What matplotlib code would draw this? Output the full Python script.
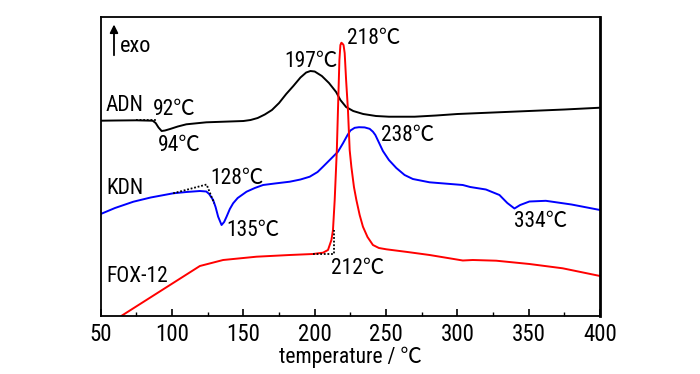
import matplotlib
matplotlib.use("Agg")
import matplotlib.pyplot as plt
from matplotlib.ticker import MultipleLocator

FAM = ['Roboto Condensed', 'Noto Sans CJK SC', 'DejaVu Sans']
plt.rcParams['font.family'] = FAM

# ---- data (temperature in °C, signal in arbitrary units) ----
adn_T = [50, 60, 75, 86.4, 88.5, 90.5, 92.7, 95, 98.6, 104, 110, 124, 140, 150, 155, 160, 165, 170,
         175, 180, 185, 190, 194, 197, 200, 205, 210, 215, 218, 222, 227, 234, 243, 252, 270, 285,
         300, 325, 350, 375, 400]
adn_S = [195.0, 195.2, 195.4, 195.0, 192.7, 188.2, 184.7, 185.2, 186.7, 189.2, 191.4, 193.4, 194.2,
         194.7, 195.7, 197.7, 201.2, 205.7, 212.7, 221.7, 229.7, 238.2, 243.2, 244.7, 244.2,
         239.7, 232.7, 223.7, 215.7, 208.7, 204.7, 201.7, 199.7, 199.0, 199.0, 200.2, 201.7, 203.2,
         204.7, 206.2, 208.0]

kdn_T = [50, 60, 72.9, 85, 100.8, 110, 119.5, 124, 126, 128.8, 130.5, 132.3, 134.7, 136.5, 138.2,
         140.5, 142.8, 146, 152.2, 158, 163.8, 172, 182.5, 190, 196.5, 202, 205.8, 210.5, 216.3,
         219.8, 223, 225, 228, 231, 235, 238.5, 240.8, 242.5, 244, 247.8, 252, 257.2, 263, 268.8,
         280.5, 303.8, 309, 320, 329.5, 335, 340, 344, 350.5, 362, 380, 400]
kdn_S = [101.7, 107.7, 114.0, 118.2, 122.4, 123.7, 124.7, 124.2, 121.7, 115.7, 108.7, 99.0, 90.7,
         93.7, 99.0, 106.7, 112.4, 117.7, 124.0, 127.7, 130.7, 132.2, 134.0, 136.2, 139.0, 143.7,
         149.0, 155.7, 164.0, 172.4, 180.7, 185.2, 187.9, 188.5, 188.3, 186.9, 184.0, 180.7, 176.2,
         164.7, 155.7, 147.7, 140.7, 136.7, 133.4, 130.7, 128.7, 126.2, 120.7, 112.7, 107.2, 110.7,
         114.2, 114.9, 111.2, 105.7]

fox_T = [64.7, 119.5, 135.8, 159.2, 182.5, 198.8, 205.8, 209.3, 211.7, 212.8, 214, 215.5, 216.5,
         217.3, 218, 218.7, 219.5, 220.2, 221, 222, 223.3, 224.5, 225.7, 227.5, 229.2, 231.5, 233.8,
         237, 240.8, 245, 250.2, 265, 280.5, 303.8, 310.8, 327.2, 350.5, 373.8, 400]
fox_S = [0.0, 49.7, 55.7, 59.0, 60.7, 61.7, 63.0, 65.7, 75.7, 85.7, 115.7, 165.7, 215.7, 255.7,
         270.7, 273.0, 272.0, 270.7, 262.7, 235.7, 205.7, 165.7, 148.7, 128.7, 115.7, 100.7, 89.0,
         78.7, 70.7, 67.7, 66.4, 63.7, 60.7, 55.2, 55.7, 55.0, 51.7, 47.4, 39.7]

# onset construction lines
adn_onset_T = [75, 89]
adn_onset_S = [195.7, 195.7]
kdn_onset_T = [100.8, 124.2, 129.5]
kdn_onset_S = [122.4, 131.2, 112.4]
fox_onset_T = [198.8, 213.5, 213.5]
fox_onset_S = [61.7, 61.7, 85.7]

x_ticks = [50, 100, 150, 200, 250, 300, 350, 400]

fig = plt.figure(figsize=(7.0, 3.74), dpi=100)
ax = fig.add_axes([0.1439, 0.1559, 0.7133, 0.7994])

ax.plot(adn_T, adn_S, color='black', lw=1.4)
ax.plot(kdn_T, kdn_S, color='#0000ff', lw=1.4)
ax.plot(fox_T, fox_S, color='#ff0000', lw=1.4)
for T, S in [(adn_onset_T, adn_onset_S), (kdn_onset_T, kdn_onset_S), (fox_onset_T, fox_onset_S)]:
    ax.plot(T, S, color='black', lw=1.3, ls=(0, (1, 1)))

ax.set_xlim(50, 400)
ax.set_ylim(0, 299)
ax.set_xticks(x_ticks)
ax.xaxis.set_minor_locator(MultipleLocator(25))
ax.set_yticks([])
ax.tick_params(axis='x', which='major', direction='in', length=5, width=1.2, labelsize=16.5, pad=5)
ax.tick_params(axis='x', which='minor', direction='in', length=3, width=1.0)
for s in ax.spines.values():
    s.set_linewidth(1.3)
ax.spines['right'].set_linewidth(2.0)
ax.set_xlabel('temperature / ℃', fontsize=15.5, labelpad=1)

fs = 15.5
labels = [
    ('ADN', 53.7, 210.7), ('92℃', 86.4, 206.7), ('94℃', 90.3, 170.0),
    ('197℃', 179.0, 254.7), ('218℃', 222.6, 277.4), ('238℃', 246.7, 180.7),
    ('KDN', 53.7, 127.4), ('128℃', 126.5, 137.4), ('135℃', 138.2, 85.0),
    ('FOX-12', 53.7, 39.0), ('212℃', 211.7, 47.4), ('334℃', 340.0, 94.0),
]
for t, x, y in labels:
    ax.text(x, y, t, fontsize=fs, ha='left', va='center')

ax.text(63.5, 269, 'exo', fontsize=16, ha='left', va='center')
ax.annotate('', xy=(59.3, 294), xytext=(59.3, 257.7),
            arrowprops=dict(arrowstyle='-|>', color='black', lw=1.3, mutation_scale=12))

fig.savefig('out.png', dpi=100)
